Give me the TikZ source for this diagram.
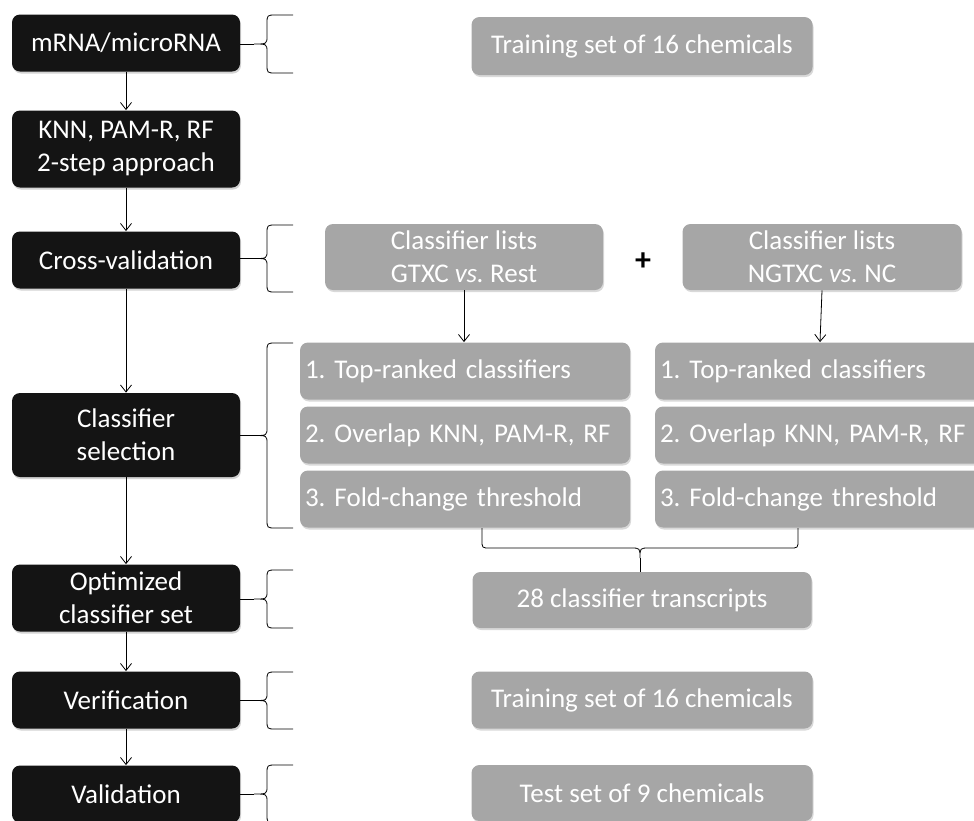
\documentclass[tikz,border=0pt]{standalone}
\usepackage{fontspec}
\setmainfont{Carlito}
\usetikzlibrary{arrows.meta,shadows}
\frenchspacing

\definecolor{stagefill}{HTML}{141414}
\definecolor{infofill}{HTML}{A6A6A6}

% side brace: top, bottom, name of its tip
\newcommand{\sidebrace}[3]{%
  \pgfmathsetmacro\bmid{(#1+#2)/2}%
  \draw (293,#1) -- (276,#1) .. controls (267,#1) .. (267,#1+9) -- (267,\bmid-8)
    .. controls (267,\bmid) .. (254,\bmid) coordinate (#3)
    .. controls (267,\bmid) .. (267,\bmid+8) -- (267,#2-9)
    .. controls (267,#2) .. (276,#2) -- (293,#2);}

\begin{document}
\begin{tikzpicture}[x=1pt,y=-1pt,line width=.8pt,
  every node/.style={font=\fontsize{27}{33}\selectfont},
  stage/.style={fill=stagefill,text=white,rounded corners=8pt,minimum width=228pt,
    align=center,inner sep=0pt,drop shadow={opacity=.35,shadow xshift=1pt,shadow yshift=-2pt}},
  info/.style={fill=infofill,text=white,rounded corners=8pt,align=center,inner sep=0pt,
    drop shadow={opacity=.3,shadow xshift=1pt,shadow yshift=-2pt}},
  crit/.style={info,minimum width=330pt,text width=320pt,align=left,inner xsep=5pt,minimum height=57pt},
  flow/.style={-{Straight Barb[length=7pt,width=11pt]}}]
\useasboundingbox (0,0) rectangle (974,820);

% stages on the left
\node[stage,minimum height=57pt] (mrna) at (126,43) {mRNA/microRNA};
\node[stage,minimum height=77pt] (knn) at (126,149) {KNN, PAM-R, RF\\2-step approach};
\node[stage,minimum height=57pt] (cv) at (126,260) {Cross-validation};
\node[stage,minimum height=84pt] (sel) at (126,435) {Classifier\\selection};
\node[stage,minimum height=67pt] (opt) at (126,598) {Optimized\\classifier set};
\node[stage,minimum height=57pt] (ver) at (126,700) {Verification};
\node[stage,minimum height=57pt] (val) at (126,794) {Validation};

\draw[flow] (mrna) -- (knn);
\draw[flow] (knn) -- (cv);
\draw[flow] (cv) -- (sel);
\draw[flow] (sel) -- (opt);
\draw[flow] (opt) -- (ver);
\draw[flow] (ver) -- (val);

% boxes on the right
\node[info,minimum width=341pt,minimum height=58pt] (train1) at (642,46) {Training set of 16 chemicals};
\node[info,minimum width=278pt,minimum height=66pt] (gtxc) at (464,257) {Classifier lists\\GTXC \emph{vs.} Rest};
\node[font=\fontsize{32}{32}\selectfont\bfseries] (plus) at (643,262) {+};
\node[info,minimum width=279pt,minimum height=66pt] (ngtxc) at (822,257) {Classifier lists\\NGTXC \emph{vs.} NC};

\node[crit] (topL) at (465,371) {1. Top-ranked classifiers};
\node[crit] (ovlL) at (465,435) {2. Overlap KNN, PAM-R, RF};
\node[crit] (fcL) at (465,499) {3. Fold-change threshold};
\node[crit] (topR) at (820,371) {1. Top-ranked classifiers};
\node[crit] (ovlR) at (820,435) {2. Overlap KNN, PAM-R, RF};
\node[crit] (fcR) at (820,499) {3. Fold-change threshold};

\draw[flow] (gtxc.south) -- (gtxc.south |- topL.north);
\draw[flow] (ngtxc.south) -- (topR.north);

\node[info,minimum width=339pt,minimum height=56pt] (sum) at (642,600) {28 classifier transcripts};
\node[info,minimum width=341pt,minimum height=57pt] (train2) at (642,700) {Training set of 16 chemicals};
\node[info,minimum width=341pt,minimum height=56pt] (test) at (642,793) {Test set of 9 chemicals};

% braces
\sidebrace{15}{73}{b1}
\sidebrace{225}{292}{b3}
\sidebrace{343}{528}{b4}
\sidebrace{570}{628}{b5}
\sidebrace{672}{729}{b6}
\sidebrace{765}{823}{b7}
\draw (mrna.east |- b1) -- (b1);
\draw (cv.east |- b3) -- (b3);
\draw (sel.east |- b4) -- (b4);
\draw (opt.east |- b5) -- (b5);
\draw (ver.east |- b6) -- (b6);
\draw (val.east |- b7) -- (b7);

\draw (482,528) -- (482,540) .. controls (482,548) .. (490,548) -- (631,548)
  .. controls (640,548) .. (640,558) coordinate (bsum)
  .. controls (640,548) .. (649,548) -- (790,548) .. controls (798,548) .. (798,540) -- (798,528);
\draw (bsum) -- (bsum |- sum.north);
\end{tikzpicture}
\end{document}
